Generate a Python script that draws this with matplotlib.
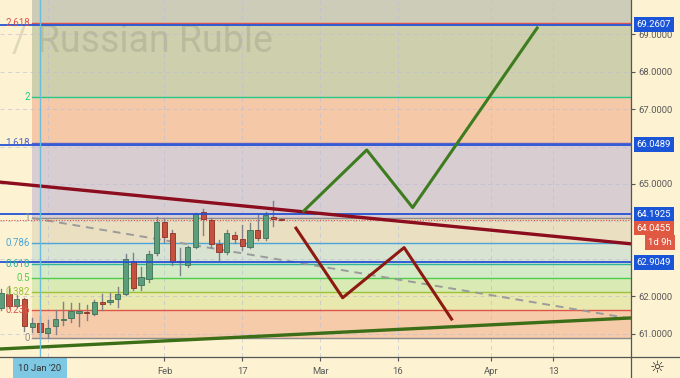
import matplotlib
matplotlib.use("Agg")
import matplotlib.pyplot as plt
import matplotlib.transforms as mtransforms
import numpy as np
import pandas as pd

plt.rcParams['font.family'] = ['Roboto', 'DejaVu Sans']

# trading days, bar 0 = 10 Jan 2020
days = pd.bdate_range('2020-01-03', '2020-05-01')
bar0 = days.get_loc(pd.Timestamp('2020-01-10'))

# daily USD/RUB candles, 3 Jan .. 24 Feb 2020
opens = [61.69, 62.06, 61.74, 61.93, 61.18, 61.28, 61.02, 61.20, 61.36, 61.42,
         61.55, 61.56, 61.53, 61.85, 61.85, 61.93, 62.06, 62.94, 62.30, 62.46,
         63.16, 63.98, 63.69, 62.94, 62.83, 63.32, 64.25, 64.04, 63.40, 63.18,
         63.64, 63.53, 63.32, 63.77, 63.56, 64.12, 64.05]
highs = [62.20, 62.27, 62.03, 61.95, 61.42, 61.47, 61.36, 61.63, 61.85, 61.82,
         61.82, 61.76, 61.90, 62.06, 62.09, 62.25, 63.13, 63.16, 62.78, 63.20,
         64.12, 64.09, 63.77, 63.29, 63.35, 64.22, 64.33, 64.09, 63.50, 63.77,
         63.72, 63.90, 63.96, 64.17, 64.25, 64.55, 64.06]
lows = [61.62, 61.68, 61.71, 61.07, 61.04, 60.88, 60.90, 60.99, 61.23, 61.31,
        61.20, 61.37, 61.50, 61.63, 61.80, 61.71, 62.03, 62.17, 62.17, 62.38,
        63.10, 63.45, 62.83, 62.57, 62.78, 63.29, 63.64, 63.32, 62.97, 63.13,
        63.42, 63.24, 63.29, 63.50, 63.50, 63.88, 64.04]
closes = [62.09, 61.74, 61.93, 61.20, 61.28, 61.04, 61.15, 61.39, 61.37, 61.61,
          61.60, 61.55, 61.85, 61.79, 61.90, 62.06, 63.00, 62.22, 62.51, 63.13,
          63.98, 63.58, 62.91, 62.91, 63.32, 64.20, 64.06, 63.40, 63.18, 63.69,
          63.53, 63.34, 63.77, 63.56, 64.17, 64.06, 64.0455]
last_price = 64.0455

# fibonacci retracement
fib_low, fib_high = 60.88, 64.10
fib_start = -1
fib_ratios = [0, 0.236, 0.382, 0.5, 0.618, 0.786, 1, 1.618, 2, 2.618, 3.618]
fib_labels = ['0', '0.236', '0.382', '0.5', '0.618', '0.786', '1', '1.618', '2', '2.618', '']
fib_line_colors = ['#8c8c8c', '#df5548', '#9cc23a', '#4fcc4f', '#2fb59a', '#4aa6d9',
                   '#8c8c8c', '#5560c8', '#22c98a', '#d9534f', '#d9534f']
fib_fills = ['#f5cba9', '#e9e8ae', '#d9eab4', '#d5ebc7', '#d8e3d2', '#ebdfc1',
             '#d8cdd1', '#f5c9a7', '#cdcfad', '#cdccb9']

# horizontal levels (blue)
levels = [69.2607, 66.0489, 64.1925, 62.9049]

# drawings: (bar, price)
resist_x, resist_y = [-5.14, 76.0], [65.05, 63.40]
support_x, support_y = [-5.14, 76.0], [60.59, 61.42]
dash_x, dash_y = [-1.0, 76.0], [64.09, 61.40]
bull_x, bull_y = [33.9, 42.0, 47.9, 63.9], [64.28, 65.91, 64.37, 69.17]
bear_x, bear_y = [32.9, 38.9, 46.8, 52.9], [63.82, 61.96, 63.30, 61.39]

price_ticks = [61, 62, 63, 64, 65, 66, 67, 68, 69]
price_labels = [61, 62, 65, 67, 68, 69]
date_ticks = ['2020-01-13', '2020-02-03', '2020-02-17', '2020-03-02',
              '2020-03-16', '2020-04-01', '2020-04-13']
date_labels = ['', 'Feb', '17', 'Mar', '16', 'Apr', '13']

bg = '#fdf3d2'
fig = plt.figure(figsize=(6.8, 3.78), dpi=100, facecolor=bg)
ax = fig.add_axes([0, 21 / 378, 631 / 680, 357 / 378])
ax.set_facecolor(bg)
ax.set_xlim(-40 / 7.78, 591 / 7.78)
ax.set_ylim(60.376, 69.918)
x_right = ax.get_xlim()[1]

# fib zones and lines
fib_prices = [fib_low + r * (fib_high - fib_low) for r in fib_ratios]
for k in range(len(fib_prices) - 1):
    ax.fill_between([fib_start, x_right], fib_prices[k], fib_prices[k + 1],
                    color=fib_fills[k], lw=0, zorder=0.5)
for p, c in zip(fib_prices[:-1], fib_line_colors):
    ax.plot([fib_start, x_right], [p, p], color=c, lw=1, zorder=1.2)
lab_tr = mtransforms.blended_transform_factory(ax.transAxes, ax.transData)
for p, lab, c in zip(fib_prices, fib_labels, fib_line_colors):
    ax.text(30 / 631, p, lab, transform=lab_tr, ha='right', va='center',
            color=c, fontsize=7, zorder=6)

# grid
for p in price_ticks:
    ax.axhline(p, color='#b9bdd6', lw=0.6, ls=(0, (5, 4)), alpha=0.7, zorder=1)
tick_pos = [days.get_loc(pd.Timestamp(d)) - bar0 for d in date_ticks]
for t in tick_pos:
    ax.axvline(t, color='#b9bdd6', lw=0.6, ls=(0, (5, 4)), alpha=0.7, zorder=1)

# watermark
ax.text(12 / 631, 1 - 41 / 357, '/ Russian Ruble', transform=ax.transAxes,
        fontsize=27, color='#6f6f60', alpha=0.2, va='center', ha='left', zorder=1)

# candles
bars = np.arange(len(opens)) - 5
for b, o, h, l, c in zip(bars, opens, highs, lows, closes):
    up = c >= o
    face = '#5c9e7c' if up else '#c4513f'
    edge = '#3f7058' if up else '#8e2f25'
    ax.plot([b, b], [l, h], color='#80808c', lw=1, zorder=3)
    ax.bar(b, max(abs(c - o), 0.03), bottom=min(o, c), width=0.68,
           color=face, edgecolor=edge, lw=0.6, zorder=3.2)

# dashed channel line and current price line
ax.plot(dash_x, dash_y, color='#9b9b9b', lw=1.4, ls=(0, (4, 3)), zorder=2)
ax.axhline(last_price, color='#e0533f', lw=0.8, ls=(0, (1, 1.5)), zorder=2.5)

# blue horizontal levels
for p in levels:
    ax.axhline(p, color='#1f4fd6', lw=1.4, alpha=0.9, zorder=4)

# trend lines and forecast zigzags
ax.plot(resist_x, resist_y, color='#8c0d1e', lw=2.4, zorder=4.5)
ax.plot(support_x, support_y, color='#3b6e17', lw=2.4, zorder=4.5)
ax.plot(bull_x, bull_y, color='#3d7c1f', lw=2.2, zorder=4.5)
ax.plot(bear_x, bear_y, color='#8c1a10', lw=2.2, zorder=4.5)

# crosshair at 10 Jan
ax.axvline(0, color='#6cbcdc', lw=1, zorder=5)

# axes styling
for s in ['top', 'left', 'right', 'bottom']:
    ax.spines[s].set_visible(False)
ax.yaxis.tick_right()
ax.set_yticks(price_labels)
ax.set_yticklabels([f'{p:.4f}' for p in price_labels])
ax.tick_params(axis='y', length=3, width=0.8, color='#555555', labelcolor='#5a5a5a',
               labelsize=6.8, pad=2.5)
ax.set_xticks(tick_pos)
ax.set_xticklabels(date_labels)
ax.tick_params(axis='x', length=3, width=0.8, color='#555555', labelcolor='#5a5a5a',
               labelsize=6.8, pad=4)

fig.add_artist(plt.Line2D([631 / 680, 631 / 680], [0, 1], color='#555555', lw=0.9))
fig.add_artist(plt.Line2D([0, 1], [21 / 378, 21 / 378], color='#555555', lw=0.9))

# price axis labels
box_kw = dict(boxstyle='square,pad=0.3', ec='none')
for p in levels:
    ax.annotate(f'{p:.4f}', xy=(1, p), xycoords=lab_tr, xytext=(4, 0),
                textcoords='offset points', va='center', ha='left', color='white',
                fontsize=6.8, bbox=dict(fc='#1a55d8', **box_kw), annotation_clip=False,
                zorder=7)
ax.annotate(f'{last_price:.4f}', xy=(1, last_price), xycoords=lab_tr, xytext=(4, -6),
            textcoords='offset points', va='center', ha='left', color='white',
            fontsize=6.8, bbox=dict(fc='#e05840', **box_kw), annotation_clip=False, zorder=7)
ax.annotate('1d 9h', xy=(1, last_price), xycoords=lab_tr, xytext=(29.5, -16.5),
            textcoords='offset points', va='center', ha='right', color='white',
            fontsize=6.8, bbox=dict(fc='#de5a45', **box_kw), annotation_clip=False, zorder=7)

# date crosshair label
ax.annotate("10 Jan '20", xy=(0, 0), xycoords=('data', 'axes fraction'), xytext=(0, -8),
            textcoords='offset points', ha='center', va='center', color='#333333',
            fontsize=6.8, bbox=dict(boxstyle='square,pad=0.6', fc='#7ec8e3', ec='none'),
            annotation_clip=False, zorder=7)

fig.text(657 / 680, 1 - 368 / 378, '\u263c', ha='center', va='center', fontsize=12,
         color='#333333', family='DejaVu Sans')

fig.savefig('out.png', dpi=100, facecolor=bg)
